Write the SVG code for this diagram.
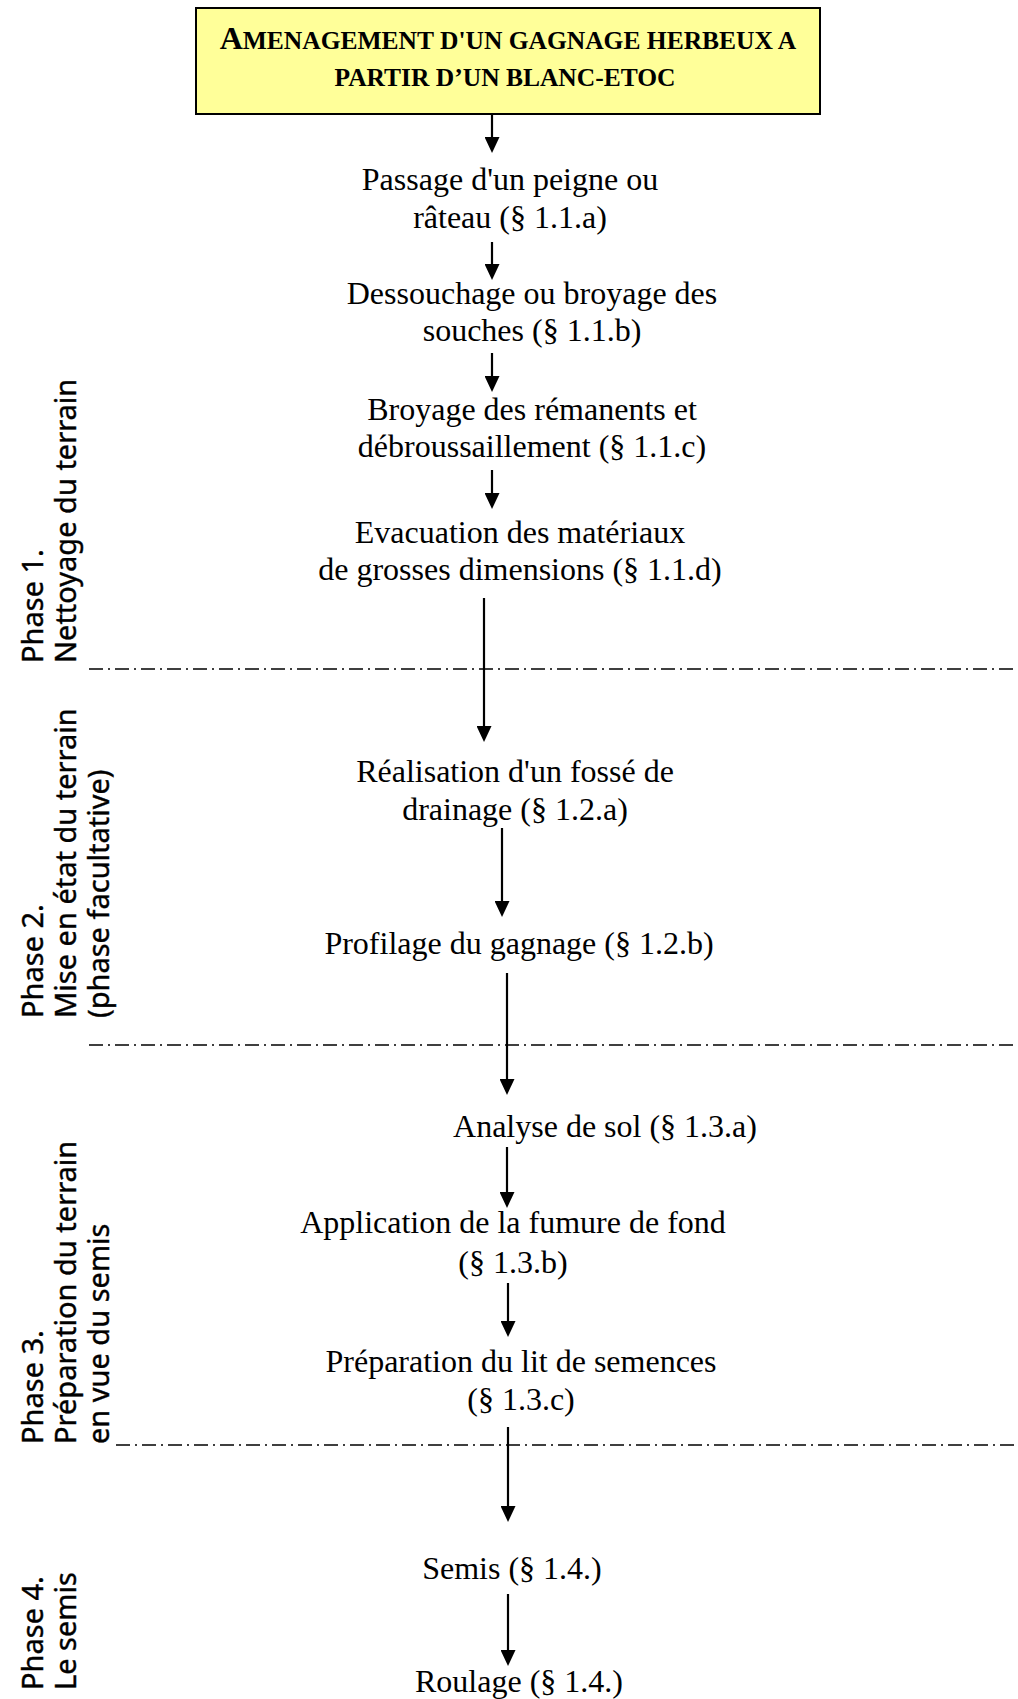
<svg xmlns="http://www.w3.org/2000/svg" width="1018" height="1699" viewBox="0 0 1018 1699">
<defs>
<marker id="ah" viewBox="0 0 16 15" refX="8" refY="7.5" markerWidth="16" markerHeight="15" markerUnits="userSpaceOnUse" orient="auto">
<path d="M0,0 L16,7.5 L0,15 z" fill="#000"/>
</marker>
<style>
.t{font-family:"Liberation Serif","Times New Roman",serif;font-size:32px;fill:#000;text-anchor:middle}
.ti{font-family:"Liberation Serif","Times New Roman",serif;font-weight:bold;fill:#000;text-anchor:middle}
.p{font-family:"Noto Sans","DejaVu Sans",sans-serif;font-size:29px;fill:#000;stroke:#000;stroke-width:0.4}
.ar{stroke:#000;stroke-width:2.2;fill:none;marker-end:url(#ah)}
.sep{stroke:#000;stroke-width:1.5;stroke-dasharray:14 5 2 5;fill:none}
</style>
</defs>
<rect width="1018" height="1699" fill="#fff"/>

<g id="title">
<rect x="196" y="8" width="624" height="106" fill="#FFFF99" stroke="#000" stroke-width="2"/>
<text class="ti" x="508" y="49"><tspan font-size="32">A</tspan><tspan font-size="25.5">MENAGEMENT D'UN GAGNAGE HERBEUX A</tspan></text>
<text class="ti" x="505" y="86" font-size="25.5">PARTIR D’UN BLANC-ETOC</text>
</g>

<g id="n1"><text class="t" x="510" y="190">Passage d'un peigne ou</text><text class="t" x="510" y="228">râteau (§ 1.1.a)</text></g>
<g id="n2"><text class="t" x="532" y="304">Dessouchage ou broyage des</text><text class="t" x="532" y="341">souches (§ 1.1.b)</text></g>
<g id="n3"><text class="t" x="532" y="420">Broyage des rémanents et</text><text class="t" x="532" y="457">débroussaillement (§ 1.1.c)</text></g>
<g id="n4"><text class="t" x="520" y="543">Evacuation des matériaux</text><text class="t" x="520" y="580">de grosses dimensions (§ 1.1.d)</text></g>
<g id="n5"><text class="t" x="515" y="782">Réalisation d'un fossé de</text><text class="t" x="515" y="820">drainage (§ 1.2.a)</text></g>
<g id="n6"><text class="t" x="519" y="954">Profilage du gagnage (§ 1.2.b)</text></g>
<g id="n7"><text class="t" x="605" y="1137">Analyse de sol (§ 1.3.a)</text></g>
<g id="n8"><text class="t" x="513" y="1233">Application de la fumure de fond</text><text class="t" x="513" y="1273">(§ 1.3.b)</text></g>
<g id="n9"><text class="t" x="521" y="1372">Préparation du lit de semences</text><text class="t" x="521" y="1410">(§ 1.3.c)</text></g>
<g id="n10"><text class="t" x="512" y="1579">Semis (§ 1.4.)</text></g>
<g id="n11"><text class="t" x="519" y="1692">Roulage (§ 1.4.)</text></g>

<g id="phases">
<g id="phase1">
<text class="p" transform="translate(43,663) rotate(-90)">Phase 1.</text>
<text class="p" transform="translate(76,663) rotate(-90)">Nettoyage du terrain</text>
</g>
<g id="phase2">
<text class="p" transform="translate(43,1018) rotate(-90)">Phase 2.</text>
<text class="p" transform="translate(76,1018) rotate(-90)">Mise en état du terrain</text>
<text class="p" transform="translate(109,1018) rotate(-90)">(phase facultative)</text>
</g>
<g id="phase3">
<text class="p" transform="translate(43,1444) rotate(-90)">Phase 3.</text>
<text class="p" transform="translate(76,1444) rotate(-90)">Préparation du terrain</text>
<text class="p" transform="translate(109,1444) rotate(-90)">en vue du semis</text>
</g>
<g id="phase4">
<text class="p" transform="translate(43,1690) rotate(-90)">Phase 4.</text>
<text class="p" transform="translate(76,1690) rotate(-90)">Le semis</text>
</g>
</g>

<g id="separators">
<line class="sep" x1="89" y1="669" x2="1018" y2="669"/>
<line class="sep" x1="89" y1="1045" x2="1018" y2="1045"/>
<line class="sep" x1="116" y1="1445" x2="1018" y2="1445"/>
</g>

<g id="connectors">
<line class="ar" x1="492" y1="114" x2="492" y2="145"/>
<line class="ar" x1="492" y1="242" x2="492" y2="272"/>
<line class="ar" x1="492" y1="353" x2="492" y2="384"/>
<line class="ar" x1="492" y1="470" x2="492" y2="501"/>
<line class="ar" x1="484" y1="598" x2="484" y2="734"/>
<line class="ar" x1="502" y1="828" x2="502" y2="909"/>
<line class="ar" x1="507" y1="973" x2="507" y2="1087"/>
<line class="ar" x1="507" y1="1147" x2="507" y2="1200"/>
<line class="ar" x1="508" y1="1283" x2="508" y2="1329"/>
<line class="ar" x1="508" y1="1427" x2="508" y2="1514"/>
<line class="ar" x1="508" y1="1594" x2="508" y2="1658"/>
</g>
</svg>
